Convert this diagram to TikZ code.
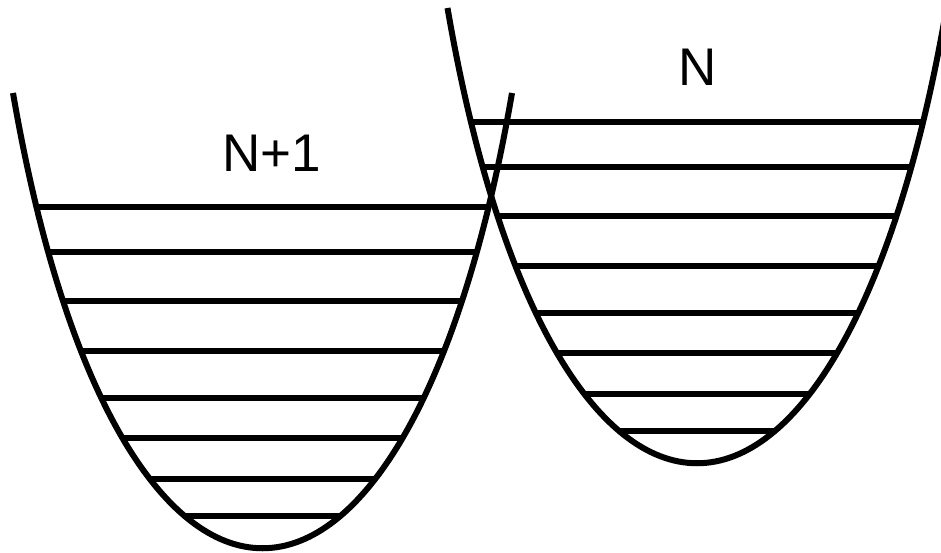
\documentclass[tikz,border=0pt]{standalone}
\usepackage{fontspec}
\setmainfont{Liberation Sans}
\usepackage{tikz}
\usetikzlibrary{positioning,calc}

\newcommand{\wellpath}{(13,93) .. controls (117.5,700) and (407.5,700) .. (512,93)}

\begin{document}
\begin{tikzpicture}[x=1pt,y=-1pt]
\tikzstyle{well} = [line width=6pt, draw=black]
\tikzstyle{level} = [line width=6pt, draw=black]
\tikzstyle{label} = [inner sep=0pt, font=\fontsize{53}{60}\selectfont]

\useasboundingbox (0,0) rectangle (941,553);

% left well, N+1
\begin{scope}
\begin{scope}
\clip \wellpath -- cycle;
\foreach \lv in {207,252,301,351,398,438,479,516}
  \draw [level] (0,\lv) -- (941,\lv);
\end{scope}
\draw [well] \wellpath;
\end{scope}

% right well, N
\begin{scope}[shift={(434.5,-85)}]
\begin{scope}
\clip \wellpath -- cycle;
\foreach \lv in {207,252,301,351,398,438,479,516}
  \draw [level] (0,\lv) -- (941,\lv);
\end{scope}
\draw [well] \wellpath;
\end{scope}

\node (lblplus) [label] at (271.5,153) {N+1};
\node (lbln) [label] at (698,67) {N};

\end{tikzpicture}
\end{document}
